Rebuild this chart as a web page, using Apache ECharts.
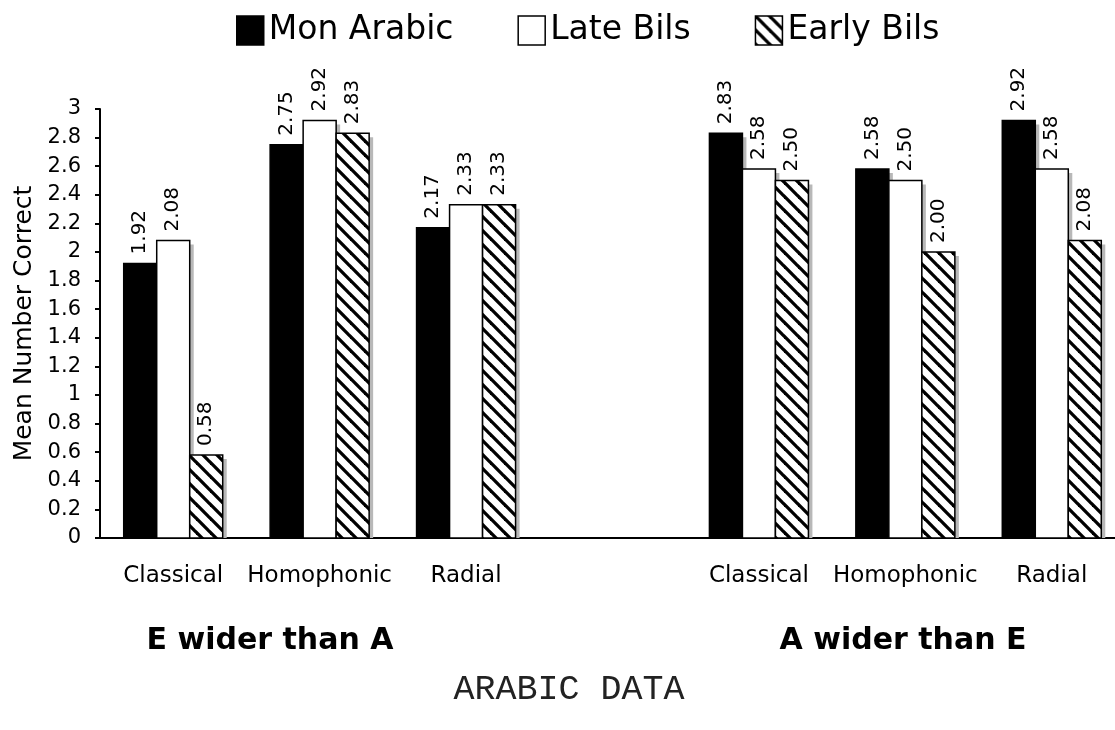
<!DOCTYPE html>
<html>
<head>
<meta charset="utf-8">
<script src="https://cdn.jsdelivr.net/npm/echarts@6/dist/echarts.min.js"></script>
<style>
html,body{margin:0;padding:0;background:#fff;}
#chart{width:1115px;height:730px;}
</style>
</head>
<body>
<div id="chart"></div>
<script>
const categories = ['Classical', 'Homophonic', 'Radial', '', 'Classical', 'Homophonic', 'Radial'];
const monArabic  = [1.92, 2.75, 2.17, null, 2.83, 2.58, 2.92];
const lateBils   = [2.08, 2.92, 2.33, null, 2.58, 2.50, 2.58];
const earlyBils  = [0.58, 2.83, 2.33, null, 2.50, 2.00, 2.08];
const seriesNames = ['Mon Arabic', 'Late Bils', 'Early Bils'];
const groupLabels = ['E wider than A', 'A wider than E'];
const footer = 'ARABIC DATA';

// hatch pattern
const T = 14;
const tile = document.createElement('canvas');
tile.width = T; tile.height = T;
const c = tile.getContext('2d');
c.fillStyle = '#fff'; c.fillRect(0, 0, T, T);
c.strokeStyle = '#000'; c.lineWidth = 3.3;
[-T, 0, T].forEach(k => {
  c.beginPath(); c.moveTo(-3, -3 + k); c.lineTo(T + 3, T + 3 + k); c.stroke();
});
const hatch = {image: tile, repeat: 'repeat'};

const font = 'DejaVu Sans';
const BAR_W = 33;

function mkSeries(name, values, fill, idx) {
  return {
    name: name, type: 'custom',
    data: values.map((v, i) => [i, v]).filter(d => d[1] !== null),
    encode: {x: 0, y: 1},
    itemStyle: {color: idx === 0 ? '#000' : '#fff'},
    renderItem: function (params, api) {
      const ci = api.value(0), v = api.value(1);
      const top = api.coord([ci, v]);
      const base = api.coord([ci, 0]);
      const cx = top[0] + (idx - 1) * BAR_W;
      const x = cx - BAR_W / 2;
      const h = base[1] - top[1];
      return {
        type: 'group',
        children: [
          {type: 'rect', shape: {x: x + 4, y: top[1] + 4, width: BAR_W, height: Math.max(h - 4, 0)},
           style: {fill: '#b8b8b8'}},
          {type: 'rect', shape: {x: x, y: top[1], width: BAR_W, height: h},
           style: {fill: fill, stroke: '#000', lineWidth: 1.5}},
          {type: 'text', x: cx, y: top[1] - 9, rotation: Math.PI / 2,
           style: {text: v.toFixed(2), fontFamily: font, fontSize: 20, fill: '#000',
                   align: 'left', verticalAlign: 'middle'}}
        ]
      };
    }
  };
}

const chart = echarts.init(document.getElementById('chart'), null, {renderer: 'canvas'});
chart.setOption({
  backgroundColor: '#fff',
  animation: false,
  legend: {
    top: 9, left: 231, icon: 'rect',
    itemWidth: 27, itemHeight: 29, itemGap: 64,
    textStyle: {fontFamily: font, fontSize: 33, color: '#000'},
    data: [
      {name: seriesNames[0], itemStyle: {color: '#000', borderColor: '#000', borderWidth: 1.5}},
      {name: seriesNames[1], itemStyle: {color: '#fff', borderColor: '#000', borderWidth: 1.5}},
      {name: seriesNames[2], itemStyle: {color: hatch, borderColor: '#000', borderWidth: 1.5}}
    ]
  },
  grid: {left: 100, right: -10, top: 109, bottom: 192, outerBoundsMode: 'none', containLabel: false},
  xAxis: {
    type: 'category', data: categories,
    axisLine: {lineStyle: {color: '#000', width: 2}},
    axisTick: {show: false},
    axisLabel: {interval: 0, margin: 27, fontFamily: font, fontSize: 23, color: '#000'}
  },
  yAxis: {
    type: 'value', min: 0, max: 3, interval: 0.2,
    name: 'Mean Number Correct', nameLocation: 'middle', nameGap: 62,
    nameTextStyle: {fontFamily: font, fontSize: 25, color: '#000'},
    axisLine: {show: true, lineStyle: {color: '#000', width: 2}},
    axisTick: {show: true, length: 5, inside: false, lineStyle: {color: '#000', width: 2}},
    splitLine: {show: false},
    axisLabel: {margin: 19, fontFamily: font, fontSize: 21, color: '#000',
      formatter: v => String(Math.round(v * 10) / 10)}
  },
  series: [
    mkSeries(seriesNames[0], monArabic, '#000', 0),
    mkSeries(seriesNames[1], lateBils, '#fff', 1),
    mkSeries(seriesNames[2], earlyBils, hatch, 2)
  ],
  graphic: [
    {type: 'text', x: 270, y: 641, style: {text: groupLabels[0], fontFamily: font, fontWeight: 'bold', fontSize: 30, fill: '#000', align: 'center', verticalAlign: 'middle'}},
    {type: 'text', x: 903, y: 641, style: {text: groupLabels[1], fontFamily: font, fontWeight: 'bold', fontSize: 30, fill: '#000', align: 'center', verticalAlign: 'middle'}},
    {type: 'text', x: 569, y: 690, style: {text: footer, fontFamily: 'Liberation Mono', fontSize: 35, fill: '#222', align: 'center', verticalAlign: 'middle'}}
  ]
});
</script>
</body>
</html>
